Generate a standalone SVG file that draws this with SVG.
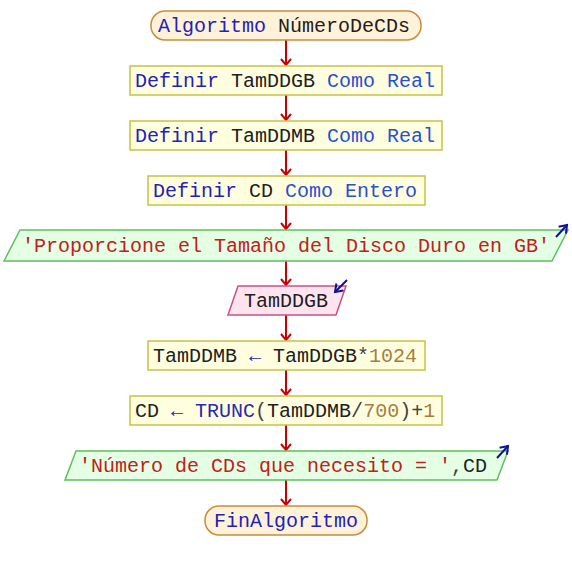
<svg xmlns="http://www.w3.org/2000/svg" width="572" height="570" viewBox="0 0 572 570">
<defs>
<marker id="red" markerUnits="userSpaceOnUse" markerWidth="9" markerHeight="14" viewBox="-8 -7 9 14" refX="0" refY="0" orient="auto" overflow="visible">
<path d="M-6,-5 L0,0 L-6,5" fill="none" stroke="#c80000" stroke-width="2"/>
</marker>
<marker id="blue" markerUnits="userSpaceOnUse" markerWidth="10" markerHeight="14" viewBox="-9 -7 10 14" refX="0" refY="0" orient="auto" overflow="visible">
<path d="M-7,-5 L0,0 L-7,5" fill="none" stroke="#10109a" stroke-width="2"/>
</marker>
<style>
text{font-family:"Liberation Mono","Courier New",monospace;font-size:20px;}
.term{fill:#fff2d8;stroke:#c88c3c;stroke-width:1.5;}
.proc{fill:#ffffe0;stroke:#c8c048;stroke-width:1.5;}
.out{fill:#e4ffe4;stroke:#5cc05c;stroke-width:1.5;}
.in{fill:#ffe4ee;stroke:#c85088;stroke-width:1.5;}
.kw{fill:#2222b8;}
.ty{fill:#2850d0;}
.id{fill:#202020;}
.st{fill:#c02020;}
.nm{fill:#a87c40;}
.op{fill:#404040;}
.fn{fill:#2a2ab0;}
.conn{stroke:#c80000;stroke-width:2;fill:none;}
.ind{stroke:#10109a;stroke-width:2;fill:none;}
</style>
</defs>
<g id="connectors">
<line class="conn" x1="286" y1="40" x2="286" y2="65" marker-end="url(#red)"/>
<line class="conn" x1="286" y1="95" x2="286" y2="120" marker-end="url(#red)"/>
<line class="conn" x1="286" y1="150" x2="286" y2="175" marker-end="url(#red)"/>
<line class="conn" x1="286" y1="205" x2="286" y2="229" marker-end="url(#red)"/>
<line class="conn" x1="286" y1="261" x2="286" y2="285" marker-end="url(#red)"/>
<line class="conn" x1="286" y1="315" x2="286" y2="340" marker-end="url(#red)"/>
<line class="conn" x1="286" y1="370" x2="286" y2="395" marker-end="url(#red)"/>
<line class="conn" x1="286" y1="425" x2="286" y2="450" marker-end="url(#red)"/>
<line class="conn" x1="286" y1="480" x2="286" y2="505" marker-end="url(#red)"/>
</g>
<g id="start">
<rect class="term" x="151" y="11" width="270" height="29" rx="14" ry="14"/>
<text x="158" y="32"><tspan class="kw">Algoritmo</tspan> <tspan class="id">NúmeroDeCDs</tspan></text>
</g>
<g id="def1">
<rect class="proc" x="130" y="66" width="312" height="29"/>
<text x="135" y="87"><tspan class="kw">Definir</tspan> <tspan class="id">TamDDGB</tspan> <tspan class="ty">Como</tspan> <tspan class="ty">Real</tspan></text>
</g>
<g id="def2">
<rect class="proc" x="130" y="121" width="312" height="29"/>
<text x="135" y="142"><tspan class="kw">Definir</tspan> <tspan class="id">TamDDMB</tspan> <tspan class="ty">Como</tspan> <tspan class="ty">Real</tspan></text>
</g>
<g id="def3">
<rect class="proc" x="148" y="176" width="277" height="29"/>
<text x="153" y="197"><tspan class="kw">Definir</tspan> <tspan class="id">CD</tspan> <tspan class="ty">Como</tspan> <tspan class="ty">Entero</tspan></text>
</g>
<g id="out1">
<polygon class="out" points="20,230 568,230 552,261 4,261"/>
<text x="22" y="252" class="st">'Proporcione el Tamaño del Disco Duro en GB'</text>
<line class="ind" x1="556" y1="237" x2="567" y2="225" marker-end="url(#blue)"/>
</g>
<g id="in1">
<polygon class="in" points="238,286 346,286 336,315 228,315"/>
<text x="244" y="307" class="id">TamDDGB</text>
<line class="ind" x1="347" y1="280" x2="335" y2="292" marker-end="url(#blue)"/>
</g>
<g id="assign1">
<rect class="proc" x="148" y="341" width="277" height="29"/>
<text x="153" y="362"><tspan class="id">TamDDMB</tspan> <tspan class="kw">←</tspan> <tspan class="id">TamDDGB</tspan><tspan class="op">*</tspan><tspan class="nm">1024</tspan></text>
</g>
<g id="assign2">
<rect class="proc" x="130" y="396" width="312" height="29"/>
<text x="135" y="417"><tspan class="id">CD</tspan> <tspan class="kw">←</tspan> <tspan class="fn">TRUNC</tspan><tspan class="op">(</tspan><tspan class="id">TamDDMB</tspan><tspan class="op">/</tspan><tspan class="nm">700</tspan><tspan class="op">)+</tspan><tspan class="nm">1</tspan></text>
</g>
<g id="out2">
<polygon class="out" points="76,451 508,451 497,480 65,480"/>
<text x="79" y="472"><tspan class="st">'Número de CDs que necesito = '</tspan><tspan class="op">,</tspan><tspan class="id">CD</tspan></text>
<line class="ind" x1="497" y1="458" x2="508" y2="446" marker-end="url(#blue)"/>
</g>
<g id="end">
<rect class="term" x="205" y="506" width="162" height="29" rx="14" ry="14"/>
<text x="214" y="527" class="kw">FinAlgoritmo</text>
</g>
</svg>
